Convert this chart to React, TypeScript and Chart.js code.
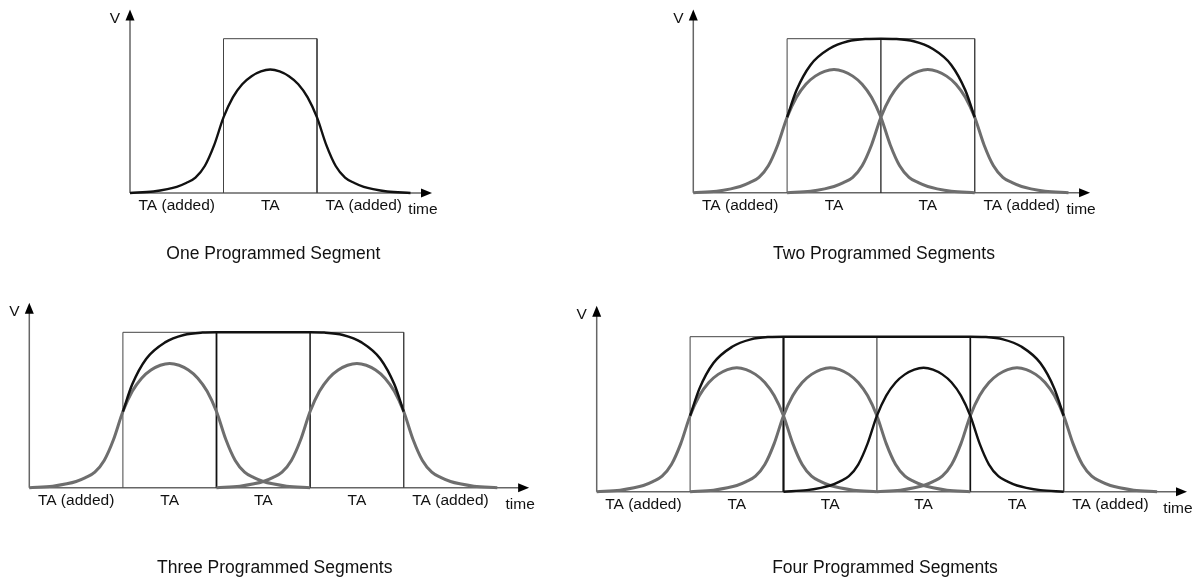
import React, { useEffect, useRef } from "react";
import { Chart, registerables } from "chart.js";

Chart.register(...registerables);

// ---------------- data ----------------
// x unit = one TA segment, y unit = height of the programmed-segment box
const PULSE_U = [0, 0.25, 0.4, 0.5, 0.6, 0.7, 0.8, 0.9, 1.0, 1.1, 1.2, 1.3, 1.4, 1.5, 1.6, 1.7, 1.8, 1.9, 2.0, 2.1, 2.2, 2.3, 2.4, 2.5, 2.6, 2.75, 3.0];
const PULSE_V = [0, 0.01, 0.025, 0.04, 0.065, 0.1, 0.175, 0.31, 0.49, 0.62, 0.705, 0.757, 0.788, 0.8, 0.788, 0.757, 0.705, 0.62, 0.49, 0.31, 0.175, 0.1, 0.065, 0.04, 0.025, 0.01, 0];

const ENV_2_U = [1.0, 1.1, 1.25, 1.45, 1.65, 1.85, 2.0, 2.15, 2.35, 2.55, 2.75, 2.9, 3.0];
const ENV_2_V = [0.49, 0.665, 0.83, 0.935, 0.983, 0.998, 1.0, 0.998, 0.983, 0.935, 0.83, 0.665, 0.49];
const ENV_3_U = [1.0, 1.1, 1.25, 1.45, 1.65, 1.85, 2.0, 3.0, 3.15, 3.35, 3.55, 3.75, 3.9, 4.0];
const ENV_3_V = [0.49, 0.665, 0.83, 0.935, 0.983, 0.998, 1.0, 1.0, 0.998, 0.983, 0.935, 0.83, 0.665, 0.49];
const ENV_4_U = [1.0, 1.1, 1.25, 1.45, 1.65, 1.85, 2.0, 4.0, 4.15, 4.35, 4.55, 4.75, 4.9, 5.0];
const ENV_4_V = [0.49, 0.665, 0.83, 0.935, 0.983, 0.998, 1.0, 1.0, 0.998, 0.983, 0.935, 0.83, 0.665, 0.49];

const SEGMENT_COUNTS = [1, 2, 3, 4];
const PULSE_STARTS = [[0], [0, 1], [0, 2], [0, 1, 2, 3]];
const BLACK_PULSES = [[0], [], [], [2]];
const DIVIDERS = [[], [2], [2, 3], [2, 3, 4]];

const SEG_LABELS_1 = ["TA (added)", "TA", "TA (added)"];
const SEG_LABELS_2 = ["TA (added)", "TA", "TA", "TA (added)"];
const SEG_LABELS_3 = ["TA (added)", "TA", "TA", "TA", "TA (added)"];
const SEG_LABELS_4 = ["TA (added)", "TA", "TA", "TA", "TA", "TA (added)"];
const TITLES = [
  "One Programmed Segment",
  "Two Programmed Segments",
  "Three Programmed Segments",
  "Four Programmed Segments",
];
const AXIS_X_LABEL = "time";
const AXIS_Y_LABEL = "V";

// ---------------- layout / style ----------------
type Layout = {
  left: number; top: number; w: number; h: number;
  ox: number; oy: number; ux: number; uy: number;
  xmax: number; ymax: number; titleX: number; titleY: number;
};

const LAYOUTS: Layout[] = [
  { left: 0, top: 0, w: 600, h: 290, ox: 130, oy: 193, ux: 93.5, uy: 154.3, xmax: 3.23, ymax: 1.19, titleX: 273.3, titleY: 254 },
  { left: 600, top: 0, w: 593, h: 290, ox: 693.3, oy: 192.7, ux: 93.8, uy: 154, xmax: 4.23, ymax: 1.19, titleX: 884, titleY: 254 },
  { left: 0, top: 290, w: 560, h: 290, ox: 29.3, oy: 487.7, ux: 93.6, uy: 155.4, xmax: 5.34, ymax: 1.19, titleX: 274.7, titleY: 568.3 },
  { left: 560, top: 290, w: 633, h: 290, ox: 596.7, oy: 491.7, ux: 93.4, uy: 155, xmax: 6.32, ymax: 1.2, titleX: 885, titleY: 568.3 },
];

const DIVIDER_STYLES = [
  [],
  [{ color: "#111", width: 1.2 }],
  [{ color: "#111", width: 1.8 }, { color: "#222", width: 1.6 }],
  [{ color: "#111", width: 2.2 }, { color: "#444", width: 1.2 }, { color: "#111", width: 1.7 }],
];

const FONT = '"Liberation Sans", Arial, Helvetica, sans-serif';
const GRAY = "#6e6e6e";
const BLACK = "#111111";

const SEG_LABELS = [SEG_LABELS_1, SEG_LABELS_2, SEG_LABELS_3, SEG_LABELS_4];
const ENVELOPES: [number[], number[]][] = [
  [[], []],
  [ENV_2_U, ENV_2_V],
  [ENV_3_U, ENV_3_V],
  [ENV_4_U, ENV_4_V],
];

const decorPlugin = {
  id: "panelDecor",
  beforeDatasetsDraw(chart: any) {
    const { ctx } = chart;
    const xs = chart.scales.x;
    const ys = chart.scales.y;
    const x0 = xs.getPixelForValue(0);
    const y0 = ys.getPixelForValue(0);
    const xe = xs.getPixelForValue(xs.max);
    const ye = ys.getPixelForValue(ys.max);
    ctx.save();
    ctx.strokeStyle = "#666";
    ctx.lineWidth = 1.5;
    ctx.beginPath();
    ctx.moveTo(x0, y0);
    ctx.lineTo(xe - 8, y0);
    ctx.moveTo(x0, y0);
    ctx.lineTo(x0, ye + 8);
    ctx.stroke();
    ctx.restore();
  },
  afterDatasetsDraw(chart: any, _args: any, opts: any) {
    const { ctx } = chart;
    const xs = chart.scales.x;
    const ys = chart.scales.y;
    const x0 = xs.getPixelForValue(0);
    const y0 = ys.getPixelForValue(0);
    const xe = xs.getPixelForValue(xs.max);
    const ye = ys.getPixelForValue(ys.max);
    ctx.save();
    // arrowheads
    ctx.fillStyle = "#000";
    ctx.beginPath();
    ctx.moveTo(xe, y0);
    ctx.lineTo(xe - 11, y0 - 4.5);
    ctx.lineTo(xe - 11, y0 + 4.5);
    ctx.closePath();
    ctx.fill();
    ctx.beginPath();
    ctx.moveTo(x0, ye);
    ctx.lineTo(x0 - 4.5, ye + 11);
    ctx.lineTo(x0 + 4.5, ye + 11);
    ctx.closePath();
    ctx.fill();
    // texts
    ctx.fillStyle = "#111";
    ctx.textAlign = "center";
    ctx.textBaseline = "middle";
    ctx.font = `15.5px ${FONT}`;
    (opts.labels as string[]).forEach((lab, k) => {
      ctx.fillText(lab, xs.getPixelForValue(k + 0.5), y0 + 13);
    });
    ctx.fillText(AXIS_X_LABEL, xe - 9, y0 + 17);
    ctx.fillText(AXIS_Y_LABEL, x0 - 15, ye + 9);
    ctx.font = `17.5px ${FONT}`;
    ctx.fillText(opts.title, opts.titleX, opts.titleY);
    ctx.restore();
  },
};

function buildConfig(i: number): any {
  const L = LAYOUTS[i];
  const n = SEGMENT_COUNTS[i];
  const datasets: any[] = [];
  const curve = (data: any[], color: string, width: number) => ({
    data,
    borderColor: color,
    borderWidth: width,
    pointRadius: 0,
    fill: false,
    cubicInterpolationMode: "monotone",
    clip: false,
  });
  const straight = (data: any[], color: string, width: number) => ({
    data,
    borderColor: color,
    borderWidth: width,
    pointRadius: 0,
    fill: false,
    tension: 0,
    clip: false,
  });

  // envelope (top-most)
  const [eu, ev] = ENVELOPES[i];
  if (eu.length) {
    datasets.push(curve(eu.map((u, k) => ({ x: u, y: ev[k] })), BLACK, 2.5));
  }
  // black pulses
  BLACK_PULSES[i].forEach((p) => {
    const s = PULSE_STARTS[i][p];
    datasets.push(curve(PULSE_U.map((u, k) => ({ x: s + u, y: PULSE_V[k] })), BLACK, 2.4));
  });
  // gray pulses
  PULSE_STARTS[i].forEach((s, p) => {
    if (BLACK_PULSES[i].includes(p)) return;
    datasets.push(curve(PULSE_U.map((u, k) => ({ x: s + u, y: PULSE_V[k] })), GRAY, 3));
  });
  // dividers
  DIVIDERS[i].forEach((d, k) => {
    const st = DIVIDER_STYLES[i][k];
    datasets.push(straight([{ x: d, y: 0 }, { x: d, y: 1 }], st.color, st.width));
  });
  // outer box
  datasets.push(
    straight(
      [{ x: 1, y: 0 }, { x: 1, y: 1 }, { x: n + 1, y: 1 }, { x: n + 1, y: 0 }],
      "#444",
      1
    )
  );

  const padLeft = L.ox - L.left;
  const padRight = L.left + L.w - (L.ox + L.xmax * L.ux);
  const padTop = L.oy - L.ymax * L.uy - L.top;
  const padBottom = L.top + L.h - L.oy;

  return {
    type: "line",
    data: { datasets },
    plugins: [decorPlugin],
    options: {
      responsive: false,
      maintainAspectRatio: false,
      animation: false,
      devicePixelRatio: 1,
      layout: { padding: { left: padLeft, right: padRight, top: padTop, bottom: padBottom } },
      scales: {
        x: { type: "linear", min: 0, max: L.xmax, display: false },
        y: { type: "linear", min: 0, max: L.ymax, display: false },
      },
      plugins: {
        legend: { display: false },
        tooltip: { enabled: false },
        title: { display: false },
        panelDecor: {
          labels: SEG_LABELS[i],
          title: TITLES[i],
          titleX: L.titleX - L.left,
          titleY: L.titleY - L.top,
        },
      },
    },
  };
}

function Panel({ index }: { index: number }) {
  const ref = useRef<HTMLCanvasElement | null>(null);
  const L = LAYOUTS[index];
  useEffect(() => {
    if (!ref.current) return;
    const chart = new Chart(ref.current, buildConfig(index));
    return () => chart.destroy();
  }, [index]);
  return (
    <canvas
      ref={ref}
      width={L.w}
      height={L.h}
      style={{ position: "absolute", left: L.left, top: L.top, width: L.w, height: L.h }}
    />
  );
}

export default function App() {
  return (
    <div
      style={{
        position: "absolute",
        left: 0,
        top: 0,
        width: 1193,
        height: 580,
        background: "#ffffff",
        overflow: "hidden",
      }}
    >
      {[0, 1, 2, 3].map((i) => (
        <Panel key={i} index={i} />
      ))}
    </div>
  );
}
